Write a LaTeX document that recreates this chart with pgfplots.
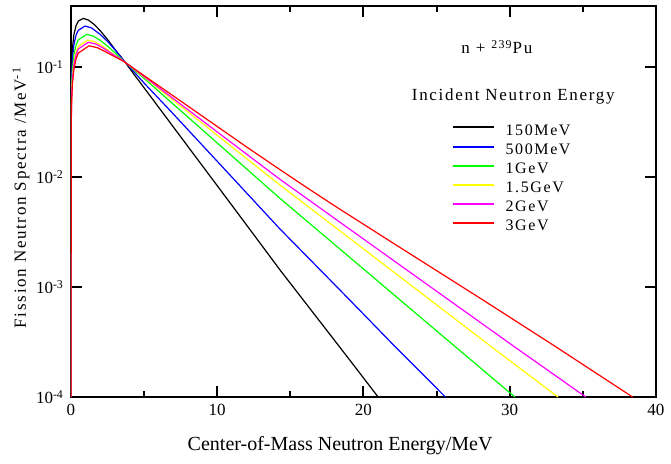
\documentclass[border=0pt]{standalone}
\usepackage{pgfplots}
\pgfplotsset{compat=1.18}
\usepackage{fontspec}
\setmainfont{Liberation Serif}
\newfontfamily\spaced[LetterSpace=10]{Liberation Serif}
\definecolor{cblue}{RGB}{0,0,255}
\definecolor{cgreen}{RGB}{0,255,0}
\definecolor{cyellow}{RGB}{255,255,0}
\definecolor{cmag}{RGB}{255,0,255}
\definecolor{cred}{RGB}{255,0,0}
\begin{document}
\begin{tikzpicture}
\path[use as bounding box] (-35.5pt,-33pt) rectangle (300pt,198.5pt);
\begin{axis}[at={(0pt,0pt)}, anchor=south west, scale only axis,
  width=292.5pt, height=195.5pt,
  ymode=log, xmin=0, xmax=40, ymin=1e-4, ymax=0.359,
  axis line style={line width=1.2pt},
  every tick/.style={line width=1pt, black},
  major tick length=5.5pt, minor tick length=3pt,
  tick align=inside,
  xtick={0,10,20,30,40}, xticklabels={0,10,20,30,40},
  minor xtick={5,15,25,35},
  ytick={1e-4,1e-3,1e-2,1e-1},
  yticklabels={10\textsuperscript{-4},10\textsuperscript{-3},10\textsuperscript{-2},10\textsuperscript{-1}},
  yminorticks=false,
  ticklabel style={font=\fontsize{8.5}{10}\selectfont},
  xlabel={Center-of-Mass Neutron Energy/MeV},
  xlabel style={font=\fontsize{10}{12}\selectfont, at={(axis description cs:0.46,-0.125)}, anchor=center},
  ylabel={\spaced Fission Neutron Spectra /MeV\textsuperscript{-1}},
  ylabel style={font=\fontsize{8.5}{10}\selectfont, at={(axis description cs:-0.0855,0.51)}, anchor=center},
  legend cell align=left,
  legend style={draw=none, fill=none, at={(axis description cs:0.650,0.7015)}, anchor=north west,
    inner sep=0pt, column sep=5.5pt, row sep=0pt,
    font=\fontsize{8}{9}\selectfont\spaced,
    nodes={inner sep=0pt, text height=6.1pt, text depth=3.45pt}},
  legend image code/.code={\draw[#1, line width=1pt] (0pt,2.6pt) -- (20.5pt,2.6pt);},
  every axis plot/.append style={line width=0.6pt},
]
\addplot[black] coordinates {(0,1e-4) (0.02,0.0696) (0.05,0.108) (0.1,0.148) (0.2,0.198) (0.35,0.239) (0.5,0.262) (0.84,0.277) (1.2,0.267) (1.6,0.243) (2.0,0.214) (2.5,0.178) (3.0,0.145) (3.58,0.116) (5,0.0647) (7,0.0285) (10,0.00834) (12.5,0.00299) (14.29,0.00143) (17,0.00049) (19,0.000222) (21.0,0.0001)};
\addlegendentry{150MeV}
\addplot[cblue] coordinates {(0,1e-4) (0.02,0.0556) (0.05,0.0865) (0.1,0.119) (0.2,0.160) (0.35,0.196) (0.5,0.216) (0.96,0.236) (1.4,0.227) (2.0,0.198) (2.5,0.171) (3.0,0.144) (3.58,0.116) (5,0.0715) (7,0.0374) (10,0.0139) (14.29,0.00337) (18.95,0.000789) (22,0.000302) (25.6,0.0001)};
\addlegendentry{500MeV}
\addplot[cgreen] coordinates {(0,1e-4) (0.02,0.0442) (0.05,0.069) (0.1,0.0952) (0.2,0.129) (0.35,0.159) (0.5,0.177) (1.07,0.198) (1.5,0.192) (2.0,0.175) (2.5,0.155) (3.0,0.135) (3.58,0.114) (5,0.0789) (7,0.0459) (10,0.0204) (14.29,0.0064) (18,0.00245) (22.37,0.000789) (26,0.000308) (30.35,0.0001)};
\addlegendentry{1GeV}
\addplot[cyellow] coordinates {(0,1e-4) (0.02,0.0381) (0.05,0.0595) (0.1,0.0823) (0.2,0.111) (0.35,0.138) (0.5,0.154) (1.14,0.176) (1.6,0.170) (2.0,0.160) (2.5,0.1435) (3.0,0.128) (3.58,0.114) (5,0.0813) (7,0.0499) (10,0.024) (14.29,0.00845) (18,0.00355) (24.42,0.000789) (29,0.00027) (33.3,0.0001)};
\addlegendentry{1.5GeV}
\addplot[cmag] coordinates {(0,1e-4) (0.02,0.0358) (0.05,0.0558) (0.1,0.0773) (0.2,0.105) (0.35,0.130) (0.5,0.146) (1.18,0.168) (1.7,0.162) (2.2,0.149) (2.8,0.132) (3.58,0.114) (5,0.082) (7,0.0516) (10,0.0257) (14.29,0.00953) (18,0.00423) (25.68,0.000789) (30,0.000307) (35.2,0.0001)};
\addlegendentry{2GeV}
\addplot[cred] coordinates {(0,1e-4) (0.02,0.0325) (0.05,0.0508) (0.1,0.0704) (0.2,0.0956) (0.35,0.119) (0.5,0.134) (1.23,0.156) (1.8,0.150) (2.3,0.139) (2.9,0.126) (3.58,0.113) (5,0.0835) (7,0.0546) (10,0.0288) (12,0.0188) (14.29,0.01167) (16,0.00822) (18,0.0055) (22,0.00252) (27.96,0.000794) (33,0.000295) (38.4,0.0001)};
\addlegendentry{3GeV}
\node[font=\fontsize{8.5}{10}\selectfont\spaced, anchor=center] at (axis description cs:0.728,0.895) {n + \textsuperscript{239}Pu};
\node[font=\fontsize{8.5}{10}\selectfont\spaced, anchor=center] at (axis description cs:0.756,0.770) {Incident Neutron Energy};
\end{axis}
\end{tikzpicture}
\end{document}
